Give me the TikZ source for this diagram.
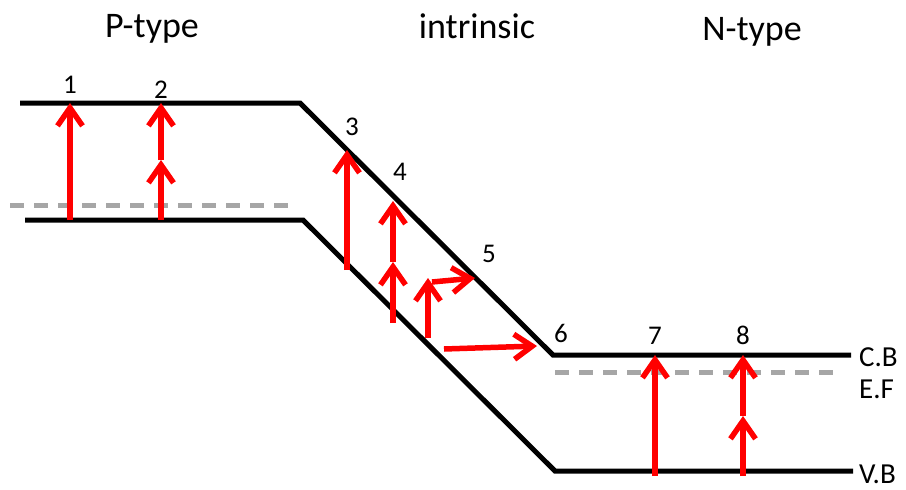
\documentclass[tikz,border=0pt]{standalone}
\usepackage{fontspec}
\setmainfont{Carlito}
\usetikzlibrary{arrows.meta}
\definecolor{efgray}{HTML}{A6A6A6}
\tikzset{
  band/.style={line width=5pt, black},
  fermi/.style={line width=5pt, efgray, dash pattern=on 14pt off 10pt},
  excite/.style={line width=5.5pt, red, -{Straight Barb[length=18pt,width=25pt]}},
  num/.style={font=\fontsize{27}{30}\selectfont, inner sep=0pt, anchor=base},
  ttl/.style={font=\fontsize{36}{40}\selectfont, inner sep=0pt, anchor=base},
  lvl/.style={font=\fontsize{29}{33}\selectfont, inner sep=0pt, anchor=base west}
}
\begin{document}
\begin{tikzpicture}[x=1pt,y=-1pt]
\useasboundingbox (0,0) rectangle (906,490);
% band corners
\coordinate (cb1) at (20,103);
\coordinate (cb2) at (300,103);
\coordinate (cb3) at (553,355);
\coordinate (cb4) at (851,355);
\coordinate (vb1) at (25,220);
\coordinate (vb2) at (303,220);
\coordinate (vb3) at (555,471);
\coordinate (vb4) at (853,471);
\draw[band] (cb1) -- (cb2) -- (cb3) -- (cb4);
\draw[band] (vb1) -- (vb2) -- (vb3) -- (vb4);
% Fermi levels
\coordinate (ef1a) at (10,205);
\coordinate (ef1b) at (292,205);
\coordinate (ef2a) at (555,372);
\coordinate (ef2b) at (837,372);
\draw[fermi] (ef1a) -- (ef1b);
\draw[fermi] (ef2a) -- (ef2b);
% arrows
\coordinate (a1s) at (70,220); \coordinate (a1e) at (70,103);
\draw[excite] (a1s) -- (a1e);
\coordinate (a2s) at (161,220); \coordinate (a2m) at (161,160); \coordinate (a2e) at (161,103);
\draw[excite] (a2s) -- (a2m);
\draw[excite] (a2m) -- (a2e);
\coordinate (a3s) at (347,270); \coordinate (a3e) at (347,150);
\draw[excite] (a3s) -- (a3e);
\coordinate (a4s) at (393,323); \coordinate (a4m) at (393,262); \coordinate (a4e) at (393,201);
\draw[excite] (a4s) -- (a4m);
\draw[excite] (a4m) -- (a4e);
\coordinate (a5s) at (428,338); \coordinate (a5m) at (428,278);
\coordinate (a5h) at (432,282); \coordinate (a5e) at (475,278);
\draw[excite] (a5s) -- (a5m);
\draw[excite] (a5h) -- (a5e);
\coordinate (a6s) at (444,349); \coordinate (a6e) at (537,346);
\draw[excite] (a6s) -- (a6e);
\coordinate (a7s) at (655,476); \coordinate (a7e) at (655,355);
\draw[excite] (a7s) -- (a7e);
\coordinate (a8s) at (743,476); \coordinate (a8m) at (743,416); \coordinate (a8e) at (743,355);
\draw[excite] (a8s) -- (a8m);
\draw[excite] (a8m) -- (a8e);
% labels
\node[num] (n1) at (70,93) {1};
\node[num] (n2) at (161,98) {2};
\node[num] (n3) at (352,135) {3};
\node[num] (n4) at (400,180) {4};
\node[num] (n5) at (489,262) {5};
\node[num] (n6) at (561,342) {6};
\node[num] (n7) at (655,344) {7};
\node[num] (n8) at (743,344) {8};
\node[ttl] (tp) at (152,37) {P-type};
\node[ttl] (ti) at (477,38) {intrinsic};
\node[ttl] (tn) at (752,40) {N-type};
\node[lvl] (lcb) at (859,366) {C.B};
\node[lvl] (lef) at (859,398) {E.F};
\node[lvl] (lvb) at (859,483) {V.B};
\end{tikzpicture}
\end{document}
